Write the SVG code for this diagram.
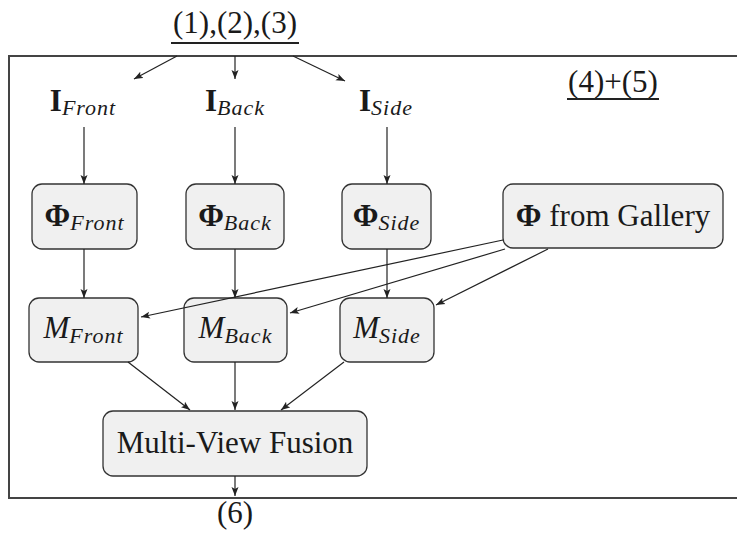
<svg xmlns="http://www.w3.org/2000/svg" width="737" height="533" viewBox="0 0 737 533">
<style>
text{font-family:"Liberation Serif","Times New Roman",serif;fill:#1a1a1a;font-size:31px;text-anchor:middle}
.b{font-weight:bold}
.i{font-style:italic}
.s{font-size:22px;font-style:italic;letter-spacing:1px}
.box{fill:#f0f0f0;stroke:#333;stroke-width:1.3}
.ln{stroke:#222;stroke-width:1.2;fill:none}
.fr{stroke:#444;stroke-width:2;fill:none}
</style>
<defs>
<marker id="ah" markerWidth="10" markerHeight="8" refX="9" refY="4" orient="auto" markerUnits="userSpaceOnUse">
<path d="M0,0.5 L9,4 L0,7.5 L2,4 Z" fill="#222"/>
</marker>
</defs>
<g id="frame">
<path class="fr" d="M737,56 H9 V498 H737"/>
</g>
<g id="title">
<text x="235" y="33">(1),(2),(3)</text>
<line x1="171" y1="43" x2="299" y2="43" stroke="#222" stroke-width="2"/>
</g>
<g id="label45">
<text x="613" y="92">(4)+(5)</text>
<line x1="567" y1="99" x2="659" y2="99" stroke="#222" stroke-width="2"/>
</g>
<g id="label6"><text x="235" y="523">(6)</text></g>
<g id="I_Front"><text x="83" y="111"><tspan class="b">I</tspan><tspan class="s" dy="4">Front</tspan></text></g>
<g id="I_Back"><text x="235" y="111"><tspan class="b">I</tspan><tspan class="s" dy="4">Back</tspan></text></g>
<g id="I_Side"><text x="386" y="111"><tspan class="b">I</tspan><tspan class="s" dy="4">Side</tspan></text></g>
<g id="Phi_Front"><rect class="box" x="32" y="184" width="105" height="65" rx="10"/><text x="84.5" y="226"><tspan class="b">Φ</tspan><tspan class="s" dy="4">Front</tspan></text></g>
<g id="Phi_Back"><rect class="box" x="186" y="184" width="98" height="65" rx="10"/><text x="235" y="226"><tspan class="b">Φ</tspan><tspan class="s" dy="4">Back</tspan></text></g>
<g id="Phi_Side"><rect class="box" x="342" y="184" width="89" height="65" rx="10"/><text x="386.5" y="226"><tspan class="b">Φ</tspan><tspan class="s" dy="4">Side</tspan></text></g>
<g id="Phi_Gallery"><rect class="box" x="503" y="184" width="220" height="64" rx="10"/><text x="613" y="226"><tspan class="b">Φ</tspan> from Gallery</text></g>
<g id="M_Front"><rect class="box" x="29" y="298" width="109" height="64" rx="10"/><text x="83.5" y="338"><tspan class="i">M</tspan><tspan class="s" dy="5">Front</tspan></text></g>
<g id="M_Back"><rect class="box" x="184" y="298" width="103" height="64" rx="10"/><text x="235.5" y="338"><tspan class="i">M</tspan><tspan class="s" dy="5">Back</tspan></text></g>
<g id="M_Side"><rect class="box" x="340" y="298" width="94" height="64" rx="10"/><text x="387" y="338"><tspan class="i">M</tspan><tspan class="s" dy="5">Side</tspan></text></g>
<g id="Fusion"><rect class="box" x="103" y="411" width="264" height="65" rx="10"/><text x="235" y="453">Multi-View Fusion</text></g>
<g id="connectors" marker-end="url(#ah)">
<line class="ln" x1="177" y1="56" x2="134" y2="79" marker-end="url(#ah)"/>
<line class="ln" x1="235" y1="56" x2="235" y2="79" marker-end="url(#ah)"/>
<line class="ln" x1="293" y1="56" x2="345" y2="81" marker-end="url(#ah)"/>
<line class="ln" x1="84" y1="127" x2="84" y2="184" marker-end="url(#ah)"/>
<line class="ln" x1="235" y1="127" x2="235" y2="184" marker-end="url(#ah)"/>
<line class="ln" x1="387" y1="127" x2="387" y2="184" marker-end="url(#ah)"/>
<line class="ln" x1="84" y1="249" x2="84" y2="298" marker-end="url(#ah)"/>
<line class="ln" x1="235" y1="249" x2="235" y2="298" marker-end="url(#ah)"/>
<line class="ln" x1="387" y1="249" x2="387" y2="298" marker-end="url(#ah)"/>
<line class="ln" x1="503" y1="240" x2="141" y2="317" marker-end="url(#ah)"/>
<line class="ln" x1="505" y1="249" x2="290" y2="313" marker-end="url(#ah)"/>
<line class="ln" x1="548" y1="249" x2="436" y2="305" marker-end="url(#ah)"/>
<line class="ln" x1="128" y1="362" x2="190" y2="410" marker-end="url(#ah)"/>
<line class="ln" x1="235" y1="362" x2="235" y2="410" marker-end="url(#ah)"/>
<line class="ln" x1="344" y1="362" x2="281" y2="410" marker-end="url(#ah)"/>
<line class="ln" x1="235" y1="476" x2="235" y2="496" marker-end="url(#ah)"/>
</g>
</svg>
